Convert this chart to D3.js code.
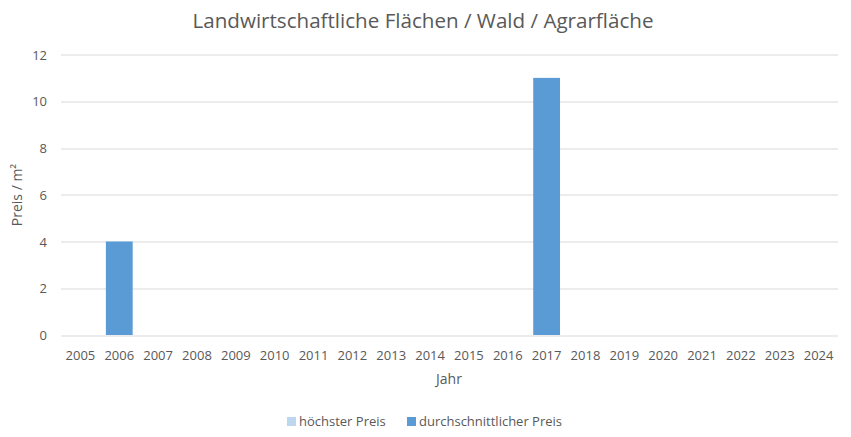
<!DOCTYPE html>
<html>
<head>
<meta charset="utf-8">
<script src="https://cdn.jsdelivr.net/npm/d3@7"></script>
<style>
  body { margin: 0; background: #fff; }
  text { font-family: 'Open Sans', 'DejaVu Sans', sans-serif; fill: #595959; }
</style>
</head>
<body>
<div id="chart"></div>
<script>
const WIDTH = 851
const HEIGHT = 437

const years = ['2005', '2006', '2007', '2008', '2009', '2010', '2011', '2012', '2013', '2014',
  '2015', '2016', '2017', '2018', '2019', '2020', '2021', '2022', '2023', '2024']
const hoechsterPreis = [0, 0, 0, 0, 0, 0, 0, 0, 0, 0, 0, 0, 0, 0, 0, 0, 0, 0, 0, 0]
const durchschnittPreis = [0, 4, 0, 0, 0, 0, 0, 0, 0, 0, 0, 0, 11, 0, 0, 0, 0, 0, 0, 0]
const yTicks = [0, 2, 4, 6, 8, 10, 12]
const seriesNames = ['höchster Preis', 'durchschnittlicher Preis']
const seriesColors = ['#bdd7ee', '#5b9bd5']

const margin = { top: 54.5, right: 13, bottom: 102, left: 61 }
const innerW = WIDTH - margin.left - margin.right
const innerH = HEIGHT - margin.top - margin.bottom

const svg = d3.select('#chart')
  .append('svg')
  .attr('width', WIDTH)
  .attr('height', HEIGHT)

// title
svg.append('text')
  .attr('x', 423)
  .attr('y', 28)
  .attr('text-anchor', 'middle')
  .style('font-size', '20.6px')
  .text('Landwirtschaftliche Flächen / Wald / Agrarfläche')

const g = svg.append('g')
  .attr('transform', `translate(${margin.left},${margin.top})`)

const x = d3.scaleBand()
  .domain(years)
  .range([0, innerW])
  .paddingInner(0.31)
  .paddingOuter(0.155)

const y = d3.scaleLinear()
  .domain([0, 12])
  .range([innerH, 0])

// gridlines
g.append('g')
  .selectAll('line')
  .data(yTicks)
  .join('line')
  .attr('x1', 0)
  .attr('x2', innerW)
  .attr('y1', (d) => Math.round(y(d)) + 0.5)
  .attr('y2', (d) => Math.round(y(d)) + 0.5)
  .attr('stroke', '#d9d9d9')
  .attr('stroke-width', 1)

// y tick labels
g.append('g')
  .selectAll('text')
  .data(yTicks)
  .join('text')
  .attr('x', -14)
  .attr('y', (d) => y(d) + 5)
  .attr('text-anchor', 'end')
  .style('font-size', '13px')
  .text((d) => d)

// bars (series overlap)
const rows = years.map((yr, i) => ({ yr, values: [hoechsterPreis[i], durchschnittPreis[i]] }))
seriesNames.forEach((name, s) => {
  g.append('g')
    .selectAll('rect')
    .data(rows.filter((r) => r.values[s] > 0))
    .join('rect')
    .attr('x', (d) => x(d.yr))
    .attr('width', x.bandwidth())
    .attr('y', (d) => y(d.values[s]))
    .attr('height', (d) => innerH - y(d.values[s]))
    .attr('fill', seriesColors[s])
})

// x tick labels
g.append('g')
  .selectAll('text')
  .data(years)
  .join('text')
  .attr('x', (d) => x(d) + x.bandwidth() / 2)
  .attr('y', innerH + 25)
  .attr('text-anchor', 'middle')
  .style('font-size', '13px')
  .text((d) => d)

// axis titles
svg.append('text')
  .attr('x', 449)
  .attr('y', 384)
  .attr('text-anchor', 'middle')
  .style('font-size', '14px')
  .text('Jahr')

svg.append('text')
  .attr('transform', 'translate(22,195) rotate(-90)')
  .attr('text-anchor', 'middle')
  .style('font-size', '14px')
  .text('Preis / m²')

// legend
const legendX = [287, 407]
const legend = svg.append('g')
seriesNames.forEach((name, i) => {
  legend.append('rect')
    .attr('x', legendX[i])
    .attr('y', 417)
    .attr('width', 9)
    .attr('height', 9)
    .attr('fill', seriesColors[i])
  legend.append('text')
    .attr('x', legendX[i] + 12)
    .attr('y', 426)
    .style('font-size', '13px')
    .text(name)
})
</script>
</body>
</html>
